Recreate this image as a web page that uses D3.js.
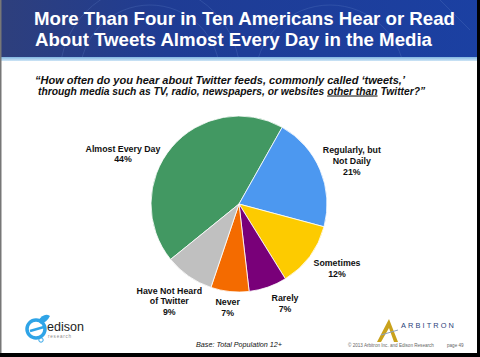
<!DOCTYPE html>
<html><head><meta charset="utf-8">
<script src="https://cdn.jsdelivr.net/npm/d3@7/dist/d3.min.js"></script>
<style>
html,body{margin:0;padding:0;background:#fff;}
svg{display:block;font-family:"Liberation Sans",Arial,sans-serif;}
</style></head>
<body>
<svg id="c" width="480" height="357"></svg>
<script>
// ---- data ----
const categories = ["Almost Every Day","Regularly, but Not Daily","Sometimes","Rarely","Never","Have Not Heard of Twitter"];
const values = [44, 21, 12, 7, 7, 9];
const labelLines = [["Almost Every Day","44%"],["Regularly, but","Not Daily","21%"],["Sometimes","12%"],["Rarely","7%"],["Never","7%"],["Have Not Heard","of Twitter","9%"]];
const colors = ["#429862","#4c98f0","#fdcb00","#790079","#f46b00","#c0c0c0"];
const titleLines = ["More Than Four in Ten Americans Hear or Read","About Tweets Almost Every Day in the Media"];
const baseNote = "Base: Total Population 12+";

const svg = d3.select("#c");
const defs = svg.append("defs");

// header gradient
const hg = defs.append("linearGradient").attr("id","hg").attr("x1","0").attr("x2","1").attr("y1","0").attr("y2","0");
hg.append("stop").attr("offset","0").attr("stop-color","#2e3f7c");
hg.append("stop").attr("offset","0.35").attr("stop-color","#1f3c94");
hg.append("stop").attr("offset","1").attr("stop-color","#1b40a2");
const sg = defs.append("linearGradient").attr("id","sg").attr("x1","0").attr("x2","0").attr("y1","0").attr("y2","1");
sg.append("stop").attr("offset","0").attr("stop-color","#7fb4e0");
sg.append("stop").attr("offset","1").attr("stop-color","#cfe6f6");
defs.append("clipPath").attr("id","hc").append("rect").attr("x",0).attr("y",0).attr("width",480).attr("height",57);

svg.append("rect").attr("x",0).attr("y",0).attr("width",480).attr("height",58).attr("fill","url(#hg)");
// faint decorative arcs, clipped to header
const deco = svg.append("g").attr("clip-path","url(#hc)").attr("fill","none").attr("stroke","#6a88cc").attr("stroke-opacity",0.3).attr("stroke-width",0.8);
deco.append("circle").attr("cx",150).attr("cy",75).attr("r",90);
deco.append("circle").attr("cx",150).attr("cy",75).attr("r",70);
deco.append("circle").attr("cx",330).attr("cy",80).attr("r",75);
deco.append("line").attr("x1",440).attr("y1",0).attr("x2",470).attr("y2",30);
svg.append("rect").attr("x",0).attr("y",57).attr("width",480).attr("height",4).attr("fill","url(#sg)");

// title
const titleSpan = [[34,421],[35,397]];
svg.append("g").selectAll("text").data(titleLines).join("text")
  .attr("x",(d,i)=>titleSpan[i][0]).attr("y",(d,i)=>25+i*20.5)
  .attr("textLength",(d,i)=>titleSpan[i][1]).attr("lengthAdjust","spacingAndGlyphs")
  .attr("fill","#fff")
  .attr("font-weight","bold").attr("font-size",17.8)
  .text(d=>d);

// subtitle
const st = svg.append("g").attr("font-style","italic").attr("font-weight","bold").attr("font-size",10.3).attr("fill","#111");
st.append("text").attr("x",35).attr("y",83.5)
  .attr("textLength",370).attr("lengthAdjust","spacingAndGlyphs")
  .text("\u201cHow often do you hear about Twitter feeds, commonly called \u2018tweets,\u2019");
const t2 = st.append("text").attr("x",38).attr("y",94.5);
t2.append("tspan").text("through media such as TV, radio, newspapers, or websites ");
t2.append("tspan").attr("text-decoration","underline").text("other than");
t2.append("tspan").text(" Twitter?\u201d");

// pie
const cx = 239, cy = 204, r = 88;
const start = -129 * Math.PI / 180;
const pie = d3.pie().sort(null).startAngle(start).endAngle(start + 2*Math.PI);
const arc = d3.arc().innerRadius(0).outerRadius(r);
const arcs = pie(values);
svg.append("g").attr("transform",`translate(${cx},${cy})`)
  .selectAll("path").data(arcs).join("path")
  .attr("d",arc).attr("fill",(d,i)=>colors[i])
  .attr("stroke","#fff").attr("stroke-width",0.8);

// labels: positions derived from slice centroid plus nudges
const labelArc = d3.arc().innerRadius(r*1.28).outerRadius(r*1.28);
const labelAdjust = [[-30,22.7],[9,0.4],[7.6,-3],[9,-6.9],[0.5,-8.6],[-5.4,4.9]];
const lg = svg.append("g").attr("font-weight","bold").attr("font-size",8.8).attr("fill","#111").attr("text-anchor","middle");
arcs.forEach((a,i)=>{
  const [px,py] = labelArc.centroid(a);
  const lines = labelLines[i];
  const t = lg.append("text");
  lines.forEach((ln,j)=>{
    t.append("tspan").attr("x",cx+px+labelAdjust[i][0])
     .attr("y",cy+py+labelAdjust[i][1]+j*10.8 - (lines.length-1)*5.4 + 3)
     .text(ln);
  });
});

// base note
svg.append("text").attr("x",239).attr("y",346.5).attr("text-anchor","middle")
  .attr("font-style","italic").attr("font-size",7.2).attr("fill","#111").text(baseNote);
svg.append("text").attr("x",348).attr("y",347).attr("font-size",4.6).attr("fill","#666")
  .text("\u00a9 2013 Arbitron Inc. and Edison Research");
svg.append("text").attr("x",447).attr("y",347).attr("font-size",4.6).attr("fill","#666").text("page 49");

// edison logo
const ed = svg.append("g");
ed.append("circle").attr("cx",36).attr("cy",329).attr("r",9).attr("fill","none").attr("stroke","#2fa4e7").attr("stroke-width",3.5);
ed.append("path").attr("d","M30 331 L44 327").attr("stroke","#2fa4e7").attr("stroke-width",2.5);
ed.append("path").attr("d","M38 321 Q44 312 50 316 Q47 322 41 324").attr("fill","#2fa4e7");
ed.append("circle").attr("cx",41).attr("cy",340).attr("r",2.2).attr("fill","none").attr("stroke","#2fa4e7").attr("stroke-width",1);
ed.append("text").attr("x",47).attr("y",331).attr("font-size",12.5).attr("fill","#222").text("edison");
ed.append("text").attr("x",48).attr("y",337.5).attr("font-size",4.5).attr("fill","#888").attr("letter-spacing",0.8).text("research");

// arbitron logo
const ab = svg.append("g");
ab.append("path").attr("d","M377 342 L389 319 L398 342 L394 342 L389 328 L381 342 Z").attr("fill","#c9a21c");
ab.append("path").attr("d","M381 335 L398 330").attr("stroke","#8aa0bf").attr("stroke-width",1);
ab.append("text").attr("x",401).attr("y",328).attr("font-size",7.4).attr("letter-spacing",2.1).attr("fill","#2b3f7a").text("ARBITRON");

// frame
svg.append("rect").attr("x",0).attr("y",0).attr("width",1.5).attr("height",357).attr("fill","#777");
svg.append("rect").attr("x",477).attr("y",0).attr("width",3).attr("height",357).attr("fill","#000");
svg.append("rect").attr("x",0).attr("y",353).attr("width",480).attr("height",4).attr("fill","#000");
</script>
</body></html>
